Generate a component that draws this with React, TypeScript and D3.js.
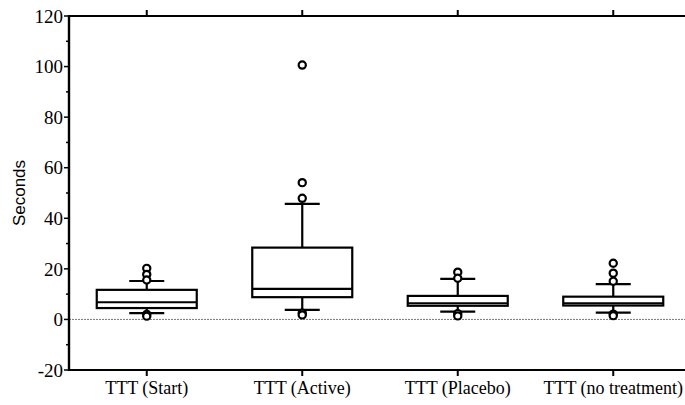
import React from "react";
import * as d3 from "d3";

const categories = ["TTT (Start)", "TTT (Active)", "TTT (Placebo)", "TTT (no treatment)"];
const whiskerLow = [2.5, 3.8, 3.1, 2.7];
const q1 = [4.5, 8.8, 5.4, 5.5];
const medians = [6.8, 12.1, 6.4, 6.4];
const q3 = [11.7, 28.4, 9.3, 9.0];
const whiskerHigh = [15.2, 45.7, 16.0, 14.0];
const outliers = [
  [20.2, 17.8, 15.6, 2.0, 1.3],
  [100.6, 54.1, 47.9, 2.5, 1.8],
  [18.7, 16.3, 2.3, 1.4],
  [22.2, 18.3, 15.1, 2.1, 1.5],
];
const yTicks = [-20, 0, 20, 40, 60, 80, 100, 120];
const yMinorTicks = [-10, 10, 30, 50, 70, 90, 110];

const W = 685;
const H = 405;
const left = 69;
const top = 16;
const bottom = 370;
const right = 691;

const serifStyle = { fontFamily: "Liberation Serif, Times New Roman, serif" };
const sansStyle = { fontFamily: "Liberation Sans, Arial, sans-serif" };

export default function App() {
  const y = d3.scaleLinear().domain([-20, 120]).range([bottom, top]);
  const x = d3.scalePoint<string>().domain(categories).range([left, right]).padding(0.5);
  const boxW = 100;
  const capW = 35;
  return (
    <svg width={W} height={H} style={{ position: "absolute", left: 0, top: 0, background: "#fff" }}>
      {/* zero line */}
      <line x1={left} x2={W} y1={y(0)} y2={y(0)} stroke="#777" strokeWidth={1} strokeDasharray="2,1" />
      {/* frame lines */}
      <line x1={left} x2={W} y1={top} y2={top} stroke="#000" strokeWidth={2.2} />
      <line x1={left} x2={W} y1={bottom} y2={bottom} stroke="#000" strokeWidth={2.2} />
      <line x1={left} x2={left} y1={top - 1} y2={bottom + 1} stroke="#000" strokeWidth={2.4} />
      {/* y ticks */}
      {yTicks.map((t) => (
        <g key={"yt" + t}>
          <line x1={left - 5} x2={left} y1={y(t)} y2={y(t)} stroke="#000" strokeWidth={1.5} />
          <text x={left - 6} y={y(t)} dy="0.35em" textAnchor="end" style={serifStyle} fontSize={19} fill="#000">
            {t}
          </text>
        </g>
      ))}
      {yMinorTicks.map((t) => (
        <line key={"ym" + t} x1={left - 3} x2={left} y1={y(t)} y2={y(t)} stroke="#000" strokeWidth={1.5} />
      ))}
      {/* x ticks */}
      {categories.map((c) => (
        <g key={"xt" + c}>
          <line x1={x(c)} x2={x(c)} y1={bottom} y2={bottom + 6} stroke="#000" strokeWidth={2} />
          <line x1={x(c)} x2={x(c)} y1={top} y2={top - 6} stroke="#000" strokeWidth={2} />
          <text x={x(c)} y={394} textAnchor="middle" style={serifStyle} fontSize={18} fill="#000">
            {c}
          </text>
        </g>
      ))}
      {/* y label */}
      <text
        transform={`translate(25,${(top + bottom) / 2}) rotate(-90)`}
        textAnchor="middle"
        style={sansStyle}
        fontSize={17}
        fill="#000"
      >
        Seconds
      </text>
      {/* boxes */}
      {categories.map((c, i) => {
        const cx = x(c) as number;
        return (
          <g key={"b" + c} stroke="#000" strokeWidth={2.2} fill="none">
            <line x1={cx} x2={cx} y1={y(q3[i])} y2={y(whiskerHigh[i])} />
            <line x1={cx} x2={cx} y1={y(q1[i])} y2={y(whiskerLow[i])} />
            <line x1={cx - capW / 2} x2={cx + capW / 2} y1={y(whiskerHigh[i])} y2={y(whiskerHigh[i])} />
            <line x1={cx - capW / 2} x2={cx + capW / 2} y1={y(whiskerLow[i])} y2={y(whiskerLow[i])} />
            <rect x={cx - boxW / 2} y={y(q3[i])} width={boxW} height={y(q1[i]) - y(q3[i])} fill="#fff" />
            <line x1={cx - boxW / 2} x2={cx + boxW / 2} y1={y(medians[i])} y2={y(medians[i])} />
            {outliers[i].map((v, j) => (
              <circle key={j} cx={cx} cy={y(v)} r={3.6} fill="#fff" strokeWidth={2.2} />
            ))}
          </g>
        );
      })}
    </svg>
  );
}
